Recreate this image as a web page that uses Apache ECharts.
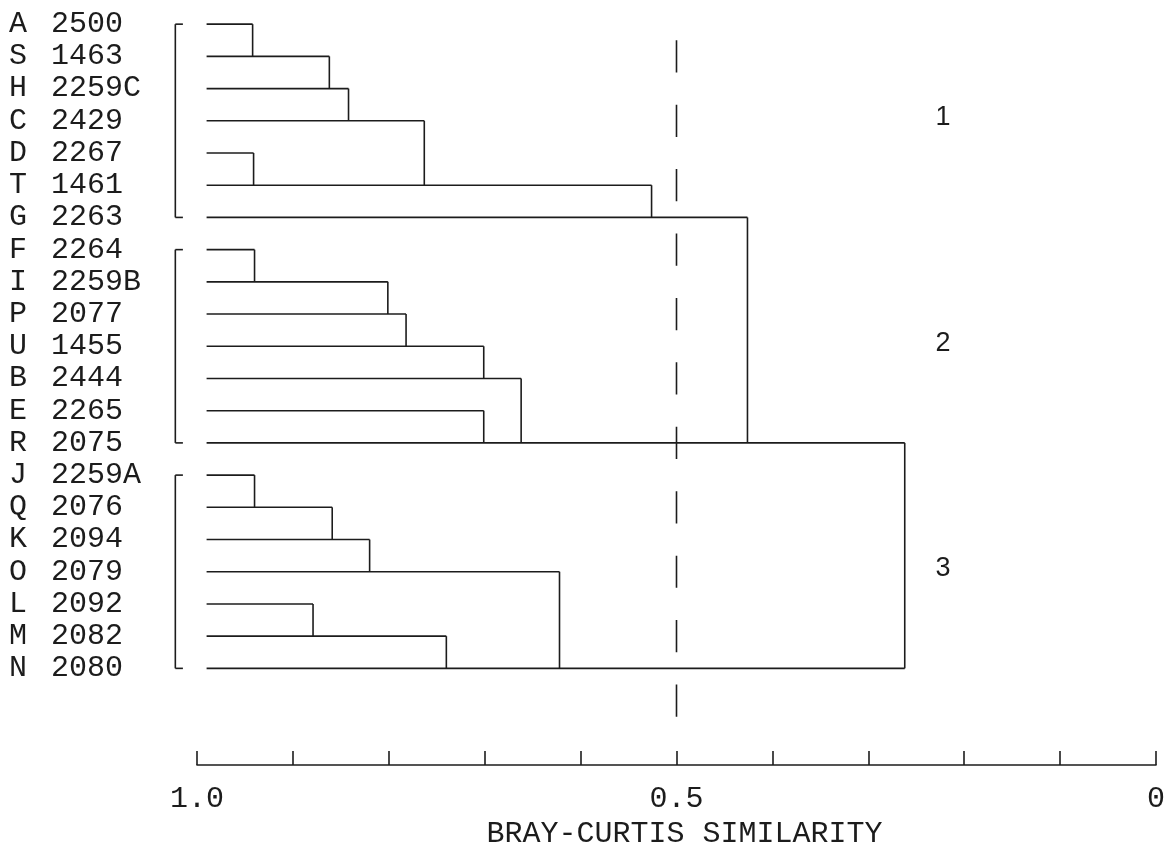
<!DOCTYPE html>
<html>
<head>
<meta charset="utf-8">
<title>Bray-Curtis dendrogram</title>
<script src="https://cdn.jsdelivr.net/npm/echarts@6/dist/echarts.min.js"></script>
<style>
  html, body { margin: 0; padding: 0; background: #ffffff; overflow: hidden; }
  #chart { width: 1171px; height: 844px; }
</style>
</head>
<body>
<div id="chart"></div>
<script>
// Station labels, top to bottom (leaf order of the dendrogram)
const leafLabels = [
  'A 2500', 'S 1463', 'H 2259C', 'C 2429', 'D 2267', 'T 1461', 'G 2263',
  'F 2264', 'I 2259B', 'P 2077', 'U 1455', 'B 2444', 'E 2265', 'R 2075',
  'J 2259A', 'Q 2076', 'K 2094', 'O 2079', 'L 2092', 'M 2082', 'N 2080'
];

// Agglomeration steps: the cluster on mergeUpper row joins the cluster on
// mergeLower row at the given Bray-Curtis similarity
const mergeUpper = [0, 1, 2, 4, 3, 5, 7, 8, 9, 10, 12, 11, 6, 14, 15, 16, 18, 19, 17, 13];
const mergeLower = [1, 2, 3, 5, 5, 6, 8, 9, 10, 11, 13, 13, 13, 15, 16, 17, 19, 20, 20, 20];
const mergeSimilarity = [
  0.942, 0.862, 0.842, 0.941, 0.763, 0.526,
  0.940, 0.801, 0.782, 0.701, 0.701, 0.662, 0.426,
  0.940, 0.859, 0.820, 0.879, 0.740, 0.622, 0.262
];

// Similarity at which every leaf branch begins
const leafStart = 0.99;

// Cluster groups (first row, last row) and their names
const groupFirst = [0, 7, 14];
const groupLast = [6, 13, 20];
const groupNames = ['1', '2', '3'];
const groupLabelSimilarity = 0.222;

// Cut level drawn as a dashed line
const cutLevel = 0.5;

// Similarity axis tick labels
const xTickValues = [1.0, 0.5, 0];
const xTickTexts = ['1.0', '0.5', '0'];

const INK = '#1c1c1c';
const MONO = '"Liberation Mono", "DejaVu Sans Mono", monospace';
const SANS = '"Liberation Sans", Arial, sans-serif';
const LINE_W = 1.6;

// ---- derived segment lists ----
const branchSegments = [];
// horizontal branch on each row runs from the leaf to its last merge
for (let r = 0; r < leafLabels.length; r++) {
  let end = leafStart;
  for (let k = 0; k < mergeSimilarity.length; k++) {
    if (mergeUpper[k] === r || mergeLower[k] === r) end = Math.min(end, mergeSimilarity[k]);
  }
  branchSegments.push([leafStart, r, end, r]);
}
// vertical connector for each merge
for (let k = 0; k < mergeSimilarity.length; k++) {
  branchSegments.push([mergeSimilarity[k], mergeUpper[k], mergeSimilarity[k], mergeLower[k]]);
}

// brackets marking the groups, left of the leaves
const bracketOuter = 1.0226, bracketInner = 1.0147;
const bracketSegments = [];
for (let g = 0; g < groupFirst.length; g++) {
  bracketSegments.push([bracketOuter, groupFirst[g], bracketOuter, groupLast[g]]);
  bracketSegments.push([bracketOuter, groupFirst[g], bracketInner, groupFirst[g]]);
  bracketSegments.push([bracketOuter, groupLast[g], bracketInner, groupLast[g]]);
}

const groupLabelData = groupNames.map((n, g) => [groupLabelSimilarity, (groupFirst[g] + groupLast[g]) / 2, n]);

function segmentRenderer(dashed) {
  return function (params, api) {
    const p1 = api.coord([api.value(0), api.value(1)]);
    const p2 = api.coord([api.value(2), api.value(3)]);
    const style = { stroke: INK, lineWidth: LINE_W, lineCap: 'butt' };
    if (dashed) {
      const rowPx = Math.abs(api.size([0, 1])[1]);
      style.lineDash = [rowPx, rowPx];
    }
    return {
      type: 'line',
      shape: { x1: p1[0], y1: p1[1], x2: p2[0], y2: p2[1] },
      style: style
    };
  };
}

const chart = echarts.init(document.getElementById('chart'), null, {
  renderer: 'canvas', width: 1171, height: 844
});

chart.setOption({
  backgroundColor: '#ffffff',
  animation: false,
  grid: [
    { left: 197, right: 15, top: 0, height: 765, outerBoundsMode: 'none', containLabel: false },
    { left: 9, top: 8, height: 676.4, width: 10, outerBoundsMode: 'none', containLabel: false }
  ],
  xAxis: [
    {
      gridIndex: 0,
      type: 'value',
      position: 'bottom',
      inverse: true,
      min: 0,
      max: 1,
      interval: 0.1,
      axisLine: { show: true, onZero: false, lineStyle: { color: INK, width: LINE_W } },
      axisTick: { show: true, inside: true, length: 14, lineStyle: { color: INK, width: LINE_W } },
      splitLine: { show: false },
      axisLabel: {
        margin: 19,
        color: INK,
        fontFamily: MONO,
        fontSize: 30,
        formatter: function (v) {
          for (let i = 0; i < xTickValues.length; i++) {
            if (Math.abs(v - xTickValues[i]) < 1e-6) return xTickTexts[i];
          }
          return '';
        }
      },
      name: 'BRAY-CURTIS SIMILARITY',
      nameLocation: 'middle',
      nameGap: 43,
      nameTextStyle: { color: INK, fontFamily: MONO, fontSize: 30, padding: [0, 0, 0, 16] }
    },
    { gridIndex: 1, type: 'value', show: false }
  ],
  yAxis: [
    { gridIndex: 0, type: 'value', inverse: true, min: -0.75, max: 23, show: false },
    {
      gridIndex: 1,
      type: 'category',
      inverse: true,
      data: leafLabels,
      axisLine: { show: false },
      axisTick: { show: false },
      splitLine: { show: false },
      axisLabel: {
        interval: 0,
        align: 'left',
        margin: 0,
        formatter: function (v) {
          const parts = v.split(' ');
          return '{l|' + parts[0] + '}{c|' + parts[1] + '}';
        },
        rich: {
          l: { width: 42, color: INK, fontFamily: MONO, fontSize: 30 },
          c: { color: INK, fontFamily: MONO, fontSize: 30 }
        }
      }
    }
  ],
  series: [
    {
      type: 'custom',
      name: 'dendrogram',
      xAxisIndex: 0, yAxisIndex: 0,
      clip: false,
      dimensions: ['x1', 'y1', 'x2', 'y2'],
      encode: { x: [0, 2], y: [1, 3] },
      renderItem: segmentRenderer(false),
      data: branchSegments,
      silent: true
    },
    {
      type: 'custom',
      name: 'groups',
      xAxisIndex: 0, yAxisIndex: 0,
      clip: false,
      dimensions: ['x1', 'y1', 'x2', 'y2'],
      encode: { x: [0, 2], y: [1, 3] },
      renderItem: segmentRenderer(false),
      data: bracketSegments,
      silent: true
    },
    {
      type: 'custom',
      name: 'cut',
      xAxisIndex: 0, yAxisIndex: 0,
      clip: false,
      dimensions: ['x1', 'y1', 'x2', 'y2'],
      encode: { x: [0, 2], y: [1, 3] },
      renderItem: segmentRenderer(true),
      data: [[cutLevel, 0.5, cutLevel, 21.5]],
      silent: true
    },
    {
      type: 'custom',
      name: 'group labels',
      xAxisIndex: 0, yAxisIndex: 0,
      clip: false,
      dimensions: ['x', 'y', 'name'],
      encode: { x: 0, y: 1 },
      renderItem: function (params, api) {
        const p = api.coord([api.value(0), api.value(1)]);
        return {
          type: 'text',
          x: p[0],
          y: p[1] - 3,
          style: {
            text: groupLabelData[params.dataIndex][2],
            fill: INK,
            fontSize: 27,
            fontFamily: SANS,
            align: 'center',
            verticalAlign: 'middle'
          }
        };
      },
      data: groupLabelData,
      silent: true
    }
  ]
});
</script>
</body>
</html>
